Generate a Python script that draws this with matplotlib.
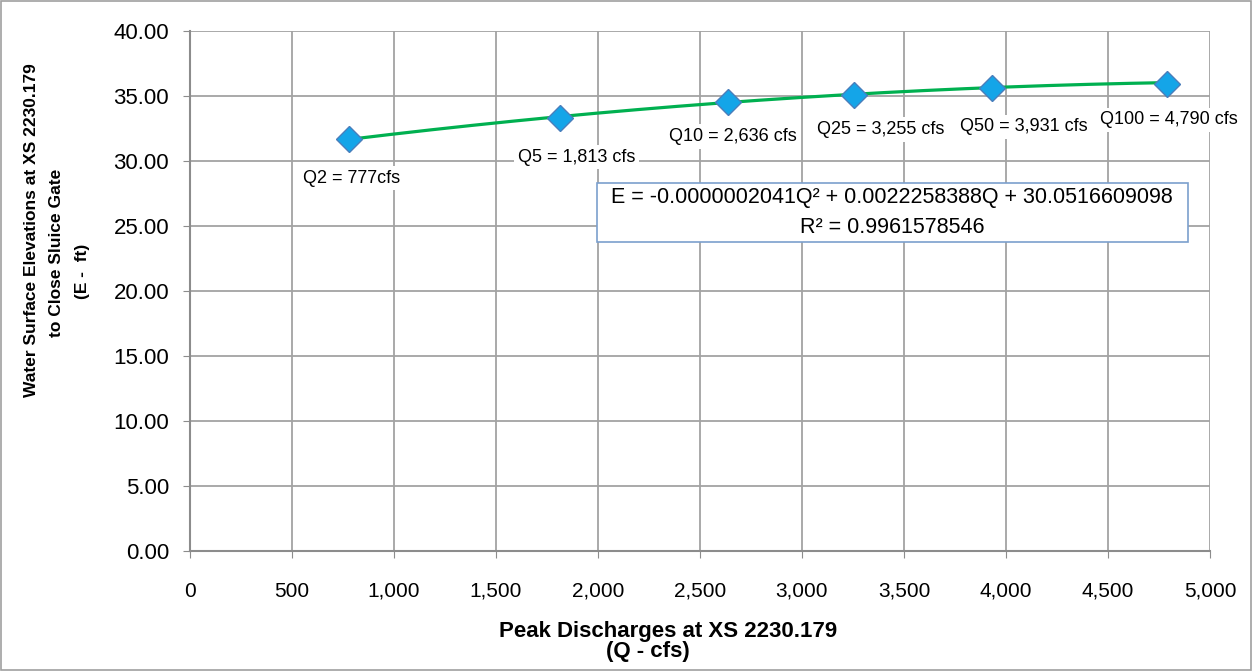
import matplotlib.pyplot as plt
import numpy as np
from matplotlib.patches import Rectangle

# peak discharges (cfs) and water surface elevations (ft)
q_labels = ["Q2 = 777cfs", "Q5 = 1,813 cfs", "Q10 = 2,636 cfs",
            "Q25 = 3,255 cfs", "Q50 = 3,931 cfs", "Q100 = 4,790 cfs"]
q_cfs = [777, 1813, 2636, 3255, 3931, 4790]
elev_ft = [31.68, 33.28, 34.55, 35.1, 35.62, 35.95]

# polynomial trendline coefficients (Q^2, Q, const)
trend_coef = [-0.0000002041, 0.0022258388, 30.0516609098]
r2 = 0.9961578546

plt.rcParams["font.family"] = ["Liberation Sans", "DejaVu Sans"]
W, H = 1254, 671
grid_c = "#a3a3a3"


def fx(px):
    return px / W


def fy(py):
    return 1 - py / H


fig = plt.figure(figsize=(W / 100, H / 100), dpi=100)
fig.patches.append(Rectangle((0.001, 0.001), 0.997, 0.997, transform=fig.transFigure,
                             fill=False, edgecolor="#a0a0a0", linewidth=1.2))
ax = fig.add_axes([fx(190), fy(551), fx(1210) - fx(190), fy(31) - fy(551)])

qq = np.linspace(q_cfs[0], q_cfs[-1], 200)
ax.plot(qq, np.polyval(trend_coef, qq), color="#00b050", lw=2.3, zorder=3)
ax.plot(q_cfs, elev_ft, ls="none", marker="D", ms=13, mfc="#14a5e8",
        mec="#4a7ebb", mew=1.0, zorder=4)

# discharge labels with white background
lab_off = [(2, -28), (12, -28), (4, -25), (19, -25), (23, -28), (1, -26)]
for x, y, t, (dx, dy) in zip(q_cfs, elev_ft, q_labels, lab_off):
    ax.annotate(t, (x, y), xytext=(dx, dy), textcoords="offset points",
                ha="center", va="center", fontsize=13,
                bbox=dict(boxstyle="square,pad=0.2", fc="white", ec="none"), zorder=5)

# trendline equation box
fig.patches.append(Rectangle((fx(597), fy(242)), fx(1188) - fx(597), fy(183) - fy(242),
                             transform=fig.transFigure, fc="white", ec="#7ba0cd",
                             lw=1.2, zorder=6))
fig.text(fx(892), fy(197), "E = -0.0000002041Q² + 0.0022258388Q + 30.0516609098",
         ha="center", va="center", fontsize=15.5, zorder=7)
fig.text(fx(892), fy(227), "R² = %.10f" % r2, ha="center", va="center",
         fontsize=15.5, zorder=7)

ax.set_xlim(0, 5000)
ax.set_ylim(0, 40)
ax.set_xticks(np.arange(0, 5001, 500))
ax.set_yticks(np.arange(0, 40.1, 5))
ax.set_xticklabels(["{:,}".format(v) for v in range(0, 5001, 500)], fontsize=15)
ax.set_yticklabels(["%.2f" % v for v in np.arange(0, 40.1, 5)], fontsize=16)
ax.grid(True, color=grid_c, lw=1.3)
ax.set_axisbelow(True)
for s in ["top", "right"]:
    ax.spines[s].set_visible(False)
for s in ["left", "bottom"]:
    ax.spines[s].set_color("#8c8c8c")
    ax.spines[s].set_linewidth(1.5)
ax.tick_params(direction="out", length=5, color="#8c8c8c")
ax.tick_params(axis="y", pad=10)
ax.tick_params(axis="x", pad=17)

# axis titles
fig.text(fx(668), fy(631), "Peak Discharges at XS 2230.179", ha="center", va="center",
         fontsize=16, fontweight="bold")
fig.text(fx(648), fy(652), "(Q - cfs)", ha="center", va="center",
         fontsize=16, fontweight="bold")
fig.text(fx(32), fy(230), "Water Surface Elevations at XS 2230.179", rotation=90,
         ha="center", va="center", fontsize=12.5, fontweight="bold")
fig.text(fx(57), fy(253), "to Close Sluice Gate", rotation=90,
         ha="center", va="center", fontsize=12.5, fontweight="bold")
fig.text(fx(82), fy(271), "(E -  ft)", rotation=90,
         ha="center", va="center", fontsize=12.5, fontweight="bold")

plt.savefig("out.png", dpi=100)
